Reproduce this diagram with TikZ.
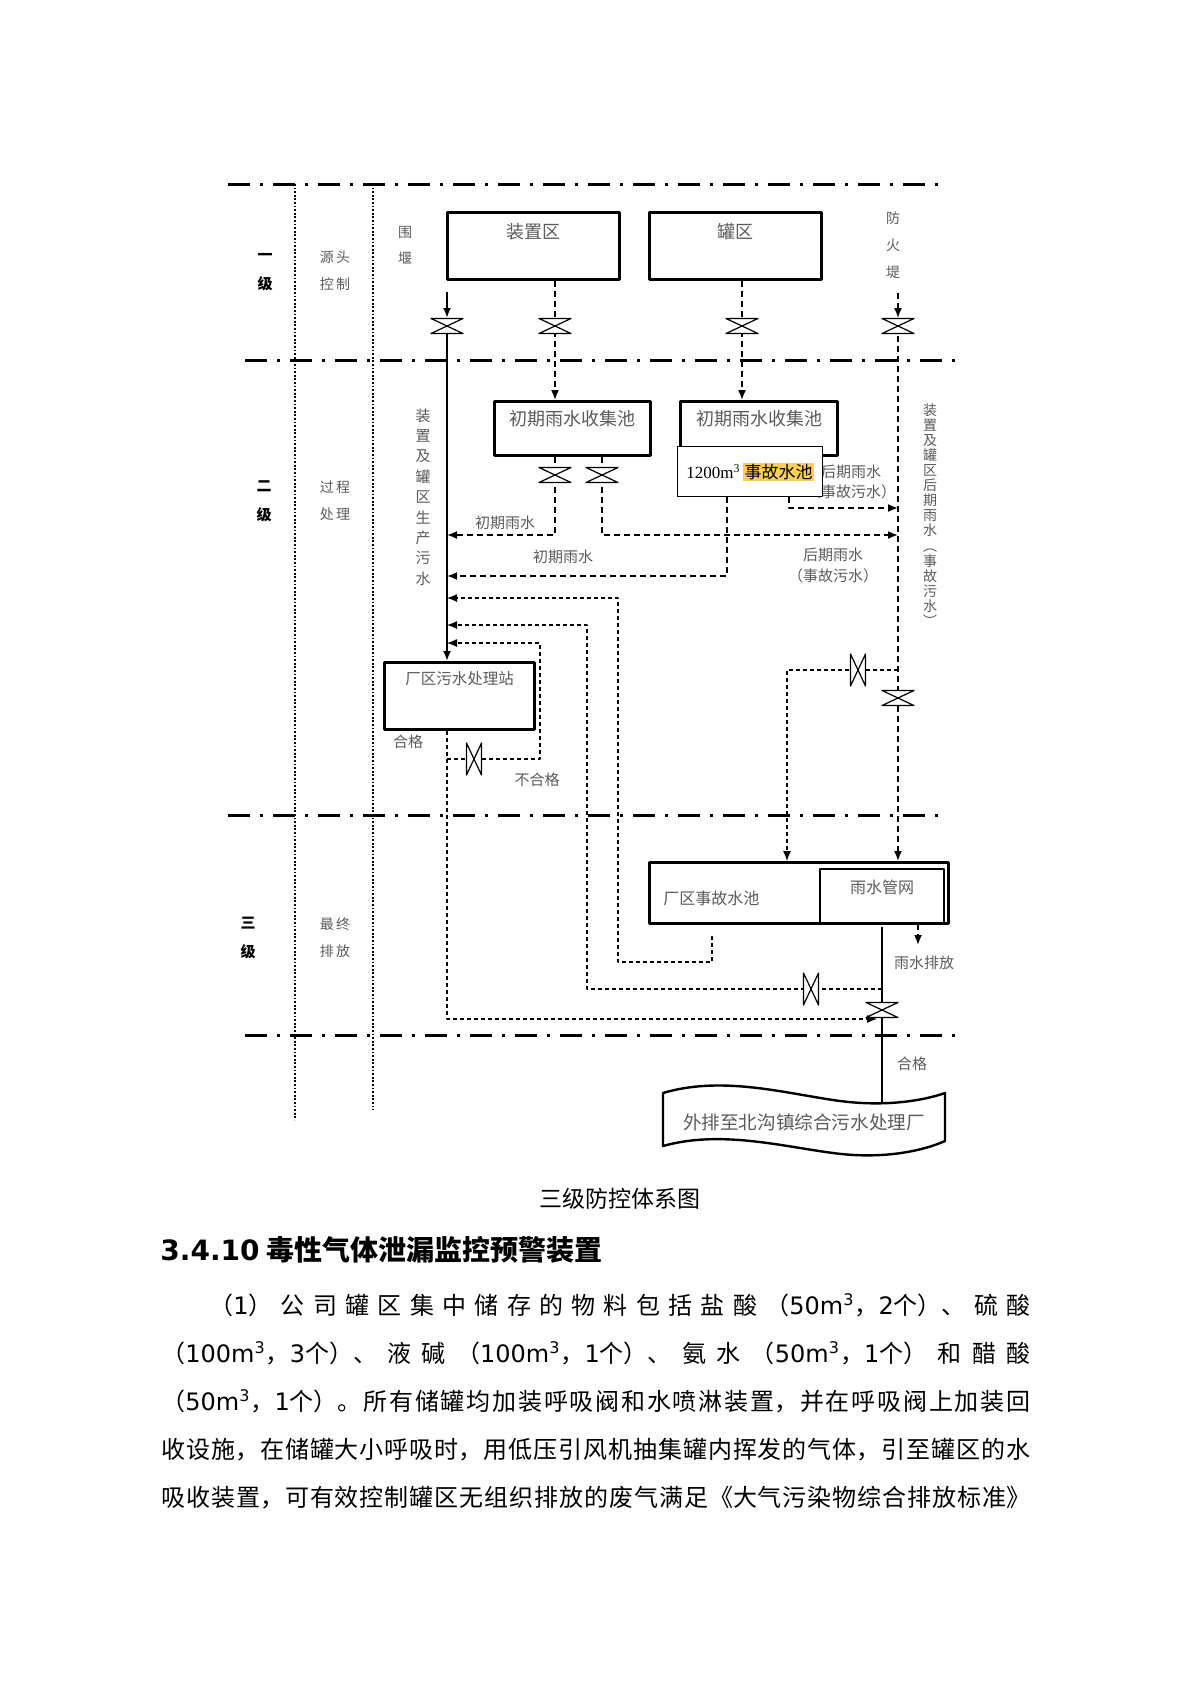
\documentclass[tikz,border=0pt]{standalone}
\usepackage{fontspec}
\setmainfont{Noto Sans CJK SC}
\newfontfamily\dejavu{DejaVu Sans}
\newfontfamily\timesf{Liberation Serif}
\usetikzlibrary{arrows.meta}
\definecolor{chuxam}{HTML}{5A5A5A}
\definecolor{toisang}{HTML}{F8CF5A}
\XeTeXlinebreaklocale "zh"
\XeTeXlinebreakskip=0pt plus 1pt
\tolerance=9999
\setlength{\fboxsep}{0.6pt}
\begin{document}
\begin{tikzpicture}[x=0.5pt,y=-0.5pt,line join=round,>={Latex[length=5pt,width=4pt]},
		levelline/.style={line width=1.5pt,dash pattern=on 11pt off 5pt on 1.5pt off 5pt},
		column/.style={line width=1pt,dash pattern=on 0.9pt off 0.9pt},
		pipe/.style={line width=1pt},
		dpipe/.style={line width=0.8pt,dash pattern=on 3pt off 2pt},
		fpipe/.style={line width=0.6pt,dash pattern=on 2pt off 1.5pt},
		box/.style={draw,line width=1.5pt,inner sep=0pt,anchor=north west},
		lbl/.style={text=chuxam,inner sep=0pt,align=center,font=\fontsize{7.5}{9}\selectfont},
		boxlbl/.style={text=chuxam,inner sep=0pt,font=\fontsize{9}{11}\selectfont},
		lvl/.style={inner sep=0pt,align=center,font=\fontsize{7.5}{14.5}\selectfont\bfseries}]
	\useasboundingbox (0,0) rectangle (1190,1683);
	%%% phan cap
	\foreach \y/\a/\b in {184/228/943,360/245/960,815/228/943,1035/245/960}
	\draw[levelline] (\a,\y) -- (\b,\y);
	\draw[column] (295,184) -- (295,1120) (373,184) -- (373,1110);
	\node[lvl] (cap1) at (265,272) {一\\级};
	\node[lvl] (cap2) at (264,501) {二\\级};
	\node[lvl] (cap3) at (248,938) {三\\级};
	\node[lbl,font=\fontsize{7}{13.5}\selectfont] (nguon) at (335,271) {源\,头\\控\,制};
	\node[lbl,font=\fontsize{7}{13.5}\selectfont] (quatrinh) at (335,501) {过\,程\\处\,理};
	\node[lbl,font=\fontsize{7}{13.5}\selectfont] (cuoi) at (335,938) {最\,终\\排\,放};
	\node[lbl,font=\fontsize{7}{13}\selectfont] (wei) at (405,245) {围\\堰};
	\node[lbl,font=\fontsize{7}{13.5}\selectfont] (fang) at (893,245) {防\\火\\堤};
	%%% nhan
	\node[lbl] (l1) at (505,523) {初期雨水};
	\node[lbl] (l2) at (563,557) {初期雨水};
	\node[lbl,font=\fontsize{7.5}{10}\selectfont] (l3) at (851,482) {后期雨水\\（事故污水）};
	\node[lbl,font=\fontsize{7.5}{10.5}\selectfont] (l4) at (833,565) {后期雨水\\（事故污水）};
	\node[lbl] (l5) at (408,742) {合格};
	\node[lbl] (l6) at (537,780) {不合格};
	\node[lbl] (l7) at (924,963) {雨水排放};
	\node[lbl] (l8) at (912,1064) {合格};
	\node[lbl,anchor=north,font=\fontsize{7.5}{10.2}\selectfont] (l9) at (423,408) {装\\置\\及\\罐\\区\\生\\产\\污\\水};
	\node[lbl,anchor=north,font=\fontsize{7}{7.55}\selectfont] (l10) at (930,403) {装\\置\\及\\罐\\区\\后\\期\\雨\\水\\︵\\事\\故\\污\\水\\︶};
	%%% hop
	\node[box,minimum width=86pt,minimum height=33.5pt,label={[boxlbl,anchor=north,yshift=-6pt]north:装置区}] (zone) at (446,211) {};
	\node[box,minimum width=86pt,minimum height=33.5pt,label={[boxlbl,anchor=north,yshift=-6pt]north:罐区}] (tank) at (648,211) {};
	\node[box,minimum width=78pt,minimum height=27pt,label={[boxlbl,anchor=north,yshift=-5pt]north:初期雨水收集池}] (pool1) at (493,400) {};
	\node[box,minimum width=78.5pt,minimum height=27pt,label={[boxlbl,anchor=north,yshift=-5pt]north:初期雨水收集池}] (pool2) at (679,400) {};
	\node[box,line width=0.6pt,fill=white,minimum width=72.5pt,minimum height=25pt,font=\fontsize{8.5}{10}\selectfont] (acc) at (677,446) {{\timesf 1200m\textsuperscript{3}}\,\colorbox{toisang}{事故水池}};
	\node[box,minimum width=75pt,minimum height=33.5pt,label={[boxlbl,font=\fontsize{7.75}{9}\selectfont,anchor=north,yshift=-5pt]north:厂区污水处理站}] (wwtp) at (383,661) {};
	\node[box,minimum width=149.5pt,minimum height=30.5pt,label={[boxlbl,font=\fontsize{8}{9}\selectfont,anchor=west,xshift=7.5pt,yshift=-2.75pt]west:厂区事故水池}] (accpool) at (648,861) {};
	\node[box,line width=1.2pt,minimum width=62pt,minimum height=27pt,label={[boxlbl,font=\fontsize{8}{9}\selectfont,anchor=north,yshift=-6pt]north:雨水管网}] (rain) at (819,868) {};
	\draw[line width=1.2pt] (663,1093) .. controls (720,1076) and (780,1092) .. (833,1100) .. controls (885,1108) and (925,1100) .. (945,1093) -- (945,1141) .. controls (925,1150) and (885,1160) .. (833,1153) .. controls (780,1146) and (720,1130) .. (663,1146) -- cycle;
	\node[boxlbl,font=\fontsize{9.3}{11}\selectfont] (outlet) at (804,1122) {外排至北沟镇综合污水处理厂};
	%%% van va diem
	\foreach \n/\p in {va1/{447,326},va2/{555,326},va3/{742,326},va4/{898,326},va5/{555,475},va6/{602,475},va7/{898,698},va8/{858,670},va9/{474,759},va10/{811,989},va11/{882,1010}}
	\coordinate (\n) at (\p);
	\foreach \n/\p in {in1/{447,292},in2/{898,293},r1/{787,670},c1/{555,535},c2/{727,576},c3/{789,508},c4/{618,598},c5/{712,962},c6/{587,625},c8/{540,759},c9/{540,643},c10/{877,1019},ra1/{712,936},ra2/{882,927},raxa/{918,945},dauvao/{882,1103}}
	\coordinate (\n) at (\p);
	%%% duong ong
	\draw[pipe,->] (in1) -- ([yshift=4pt]va1);
	\draw[pipe,->] (va1) -- (wwtp.north -| va1);
	\draw[dpipe,->] (zone.south -| va2) -- (pool1.north -| va2);
	\draw[dpipe,->] (tank.south -| va3) -- (pool2.north -| va3);
	\draw[dpipe,->] (in2) -- ([yshift=4pt]va4);
	\draw[dpipe,->] (va4) -- (accpool.north -| va4);
	\draw[fpipe,->] (va4 |- va8) -- (r1) -- (accpool.north -| r1);
	\draw[dpipe,->] (pool1.south -| va5) |- (va1 |- c1);
	\draw[dpipe,->] (pool1.south -| va6) |- (va4 |- c1);
	\draw[dpipe,->] (acc.south -| c2) |- (va1 |- c2);
	\draw[dpipe,->] (acc.south -| c3) |- (va4 |- c3);
	\draw[fpipe,->] (ra1) -- (c5) -| (c4) -- (va1 |- c4);
	\draw[fpipe,->] (va11 |- va10) -| (c6) -- (va1 |- c6);
	\draw[fpipe,->] (wwtp.south -| va1) |- (c10);
	\draw[fpipe,->] (va1 |- va9) -- (c8) -- (c9) -- (va1 |- c9);
	\draw[pipe] (ra2) -- (dauvao);
	\draw[dpipe,->] (rain.south -| raxa) -- (raxa);
	\tikzset{van/.pic={
			\filldraw[fill=white,line width=0.6pt] (-16,-7.5) -- (16,-7.5) -- (0,0) -- cycle (-16,7.5) -- (16,7.5) -- (0,0) -- cycle;
	}}
	\foreach \v in {va1,va2,va3,va4,va5,va6,va7,va11}
	\path (\v) pic{van};
	\foreach \v in {va8,va9,va10}
	\path (\v) pic[rotate=90]{van};
	%%% van ban
	\node[font=\fontsize{11.5}{13}\selectfont,inner sep=0pt] (tenhinh) at (620,1199) {三级防控体系图};
	\node[anchor=west,inner sep=0pt,font=\fontsize{14}{16}\selectfont\bfseries] (tieude) at (160,1250) {{\dejavu 3.4.10} 毒性气体泄漏监控预警装置};
	\node[anchor=north west,inner sep=0pt,text width=434.5pt,align=justify,font=\fontsize{12}{24}\selectfont] (doanvan) at (161,1293) {\hspace*{24pt}（{\dejavu 1}）公司罐区集中储存的物料包括盐酸（{\dejavu 50m\textsuperscript{3}}，{\dejavu 2}个）、硫酸\linebreak
		（{\dejavu 100m\textsuperscript{3}}，{\dejavu 3}个）、液碱（{\dejavu 100m\textsuperscript{3}}，{\dejavu 1}个）、氨水（{\dejavu 50m\textsuperscript{3}}，{\dejavu 1}个）和醋酸\linebreak
		（{\dejavu 50m\textsuperscript{3}}，{\dejavu 1}个）。所有储罐均加装呼吸阀和水喷淋装置，并在呼吸阀上加装回\linebreak
		收设施，在储罐大小呼吸时，用低压引风机抽集罐内挥发的气体，引至罐区的水\linebreak
		吸收装置，可有效控制罐区无组织排放的废气满足《大气污染物综合排放标准》\parfillskip=0pt\par};
	\node[font=\fontsize{5}{5}\selectfont,inner sep=0pt] (trang) at (604,1407) {2};
\end{tikzpicture}
\end{document}
